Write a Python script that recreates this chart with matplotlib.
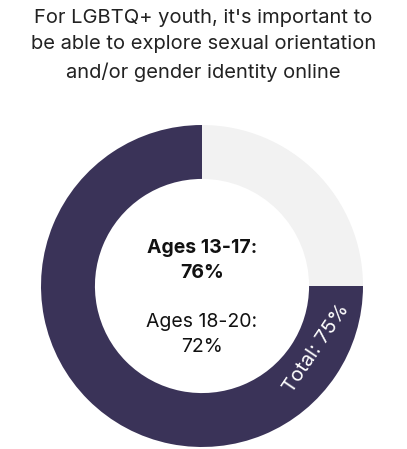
import matplotlib.pyplot as plt

labels = ['Yes', 'No']
shares = [75, 25]
colors = ['#3a3358', '#f2f2f2']
age_groups = ['Ages 13-17:', 'Ages 18-20:']
age_values = [76, 72]

plt.rcParams['font.family'] = ['Inter', 'DejaVu Sans']

fig = plt.figure(figsize=(4.07, 4.49), dpi=100)
fig.text(0.5, 0.98, "For LGBTQ+ youth, it's important to\nbe able to explore sexual orientation\nand/or gender identity online",
         ha='center', va='top', fontsize=14.5, color='#222222', linespacing=1.6)

ax = fig.add_axes([41 / 407, 2 / 449, 322 / 407, 322 / 449])
ax.pie(shares, colors=colors, startangle=90, counterclock=True,
       wedgeprops=dict(width=0.335, edgecolor='none'))
ax.set_xlim(-1, 1)
ax.set_ylim(-1, 1)
ax.set_aspect('equal')
ax.axis('off')

# center labels
ax.text(0, 0.16, f'{age_groups[0]}\n{age_values[0]}%', ha='center', va='center',
        fontsize=14, fontweight='bold', color='#111111', linespacing=1.5)
ax.text(0, -0.3, f'{age_groups[1]}\n{age_values[1]}%', ha='center', va='center',
        fontsize=14, color='#111111', linespacing=1.5)

# total label along the ring
ax.text(0.71, -0.39, f'Total: {shares[0]}%', ha='center', va='center',
        rotation=56, fontsize=14.5, color='white')

fig.savefig('out.png', dpi=100)
